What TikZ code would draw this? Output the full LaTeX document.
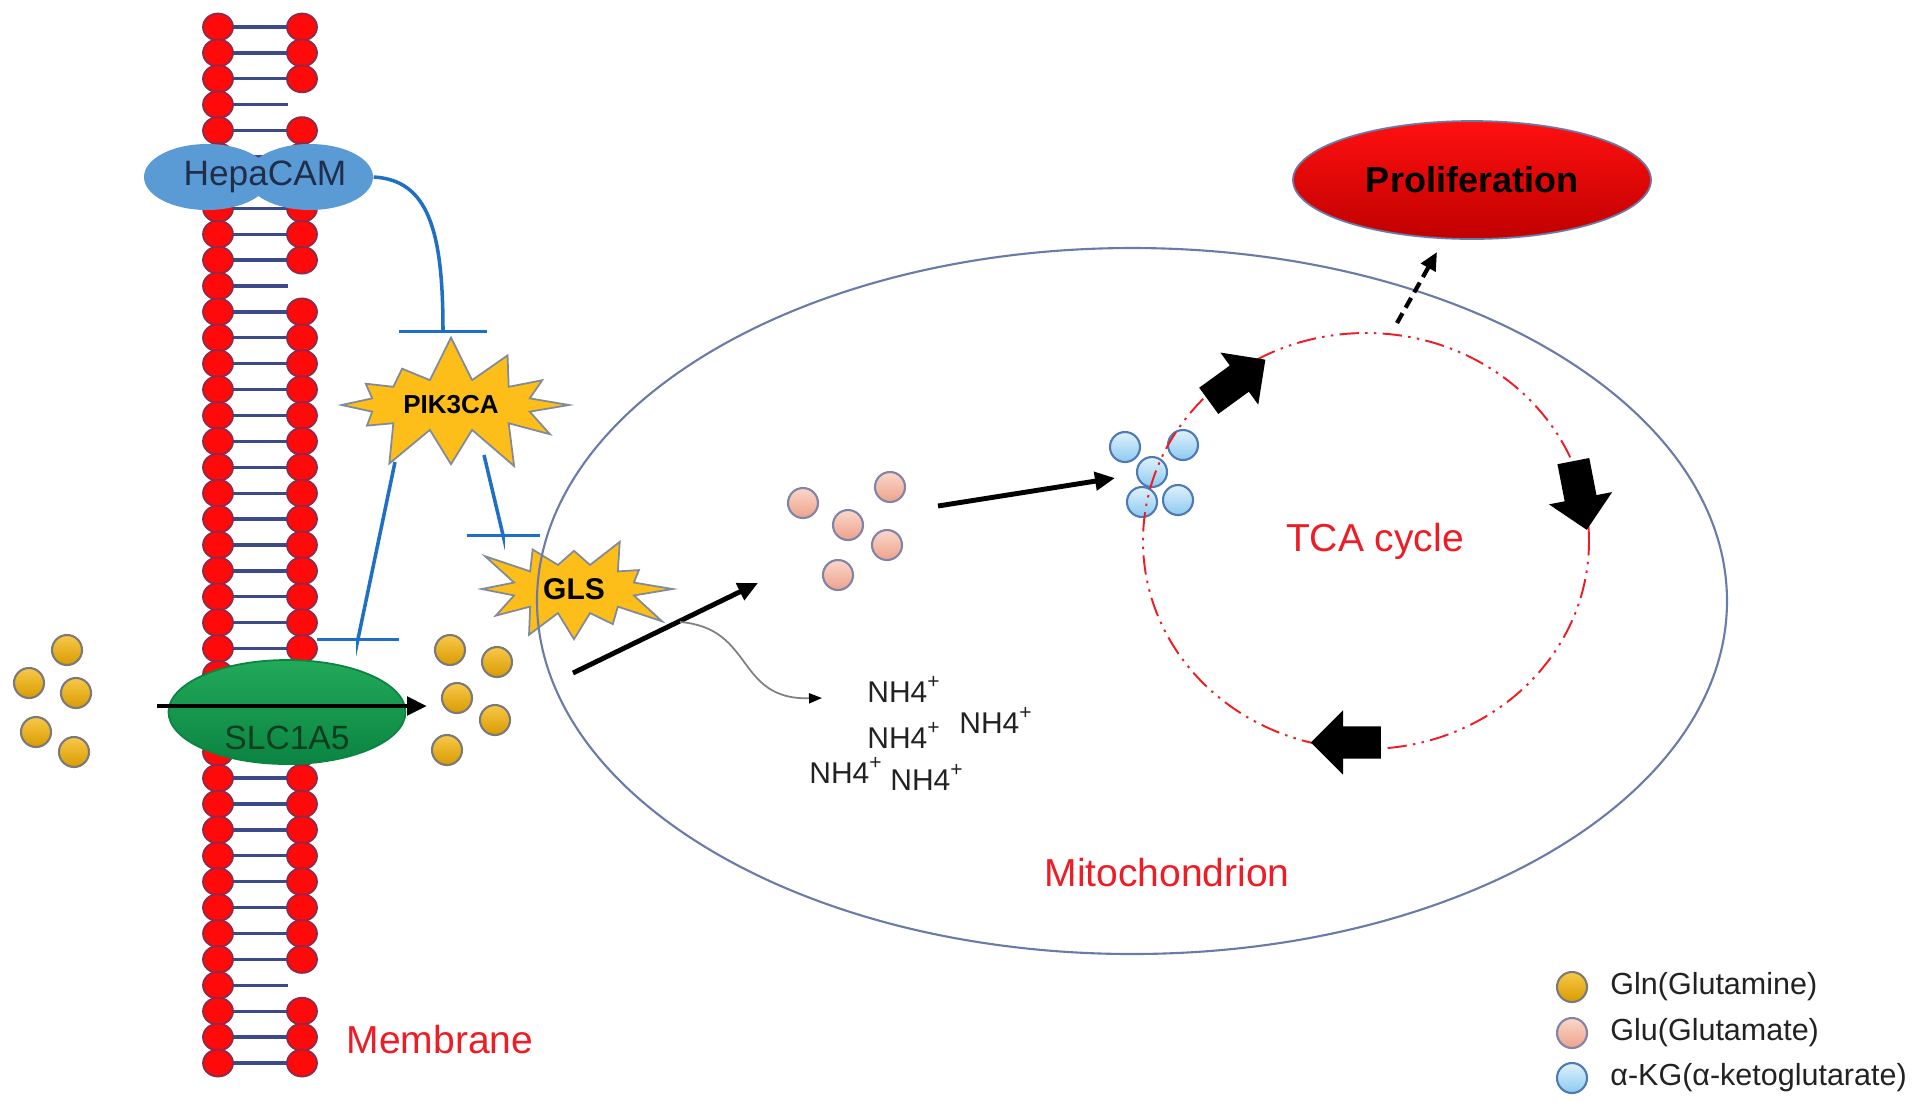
\documentclass[tikz,border=0pt]{standalone}
\usepackage{fontspec}
\setmainfont{Liberation Sans}
\usepackage{xcolor}
\usepackage{tikz}
\usetikzlibrary{arrows.meta,shapes.geometric,shapes.symbols,shapes.arrows}
\definecolor{lipidred}{HTML}{FF0A0A}
\definecolor{lipidedge}{HTML}{8C2A4B}
\definecolor{tailcolor}{HTML}{3D4A8A}
\definecolor{hepacolor}{HTML}{5B9BD5}
\definecolor{hepatext}{HTML}{1F2E4A}
\definecolor{inhibitcolor}{HTML}{1F6FC5}
\definecolor{burstcolor}{HTML}{FDBE1A}
\definecolor{burstedge}{HTML}{7F8A9A}
\definecolor{slctop}{HTML}{22A95A}
\definecolor{slcbottom}{HTML}{0B8442}
\definecolor{slctext}{HTML}{0B3D1F}
\definecolor{glntop}{HTML}{F8C84A}
\definecolor{glnbottom}{HTML}{D99B00}
\definecolor{glnedge}{HTML}{7A7A7A}
\definecolor{glutop}{HTML}{FAD7CA}
\definecolor{glubottom}{HTML}{EEA28C}
\definecolor{gluedge}{HTML}{8084A8}
\definecolor{akgtop}{HTML}{DFF1FC}
\definecolor{akgbottom}{HTML}{8CCAF0}
\definecolor{akgedge}{HTML}{4F79B5}
\definecolor{mitoedge}{HTML}{6A7BA8}
\definecolor{labelred}{HTML}{EE1C25}
\definecolor{prolitop}{HTML}{FF1010}
\definecolor{prolibottom}{HTML}{C00000}
\definecolor{inktext}{HTML}{222222}
\tikzset{
  lipid/.style={draw=lipidedge, line width=0.5pt, fill=lipidred},
  tailline/.style={draw=tailcolor, line width=0.95pt},
  hepalobe/.style={ellipse, fill=hepacolor, minimum width=1.26cm, minimum height=0.66cm, inner sep=0pt},
  inhibit/.style={draw=inhibitcolor, line width=1pt},
  burst/.style={starburst, starburst points=12, fill=burstcolor, draw=burstedge, line width=0.5pt, font=\bfseries},
  flow/.style={draw=black, line width=1.4pt, -{Triangle[length=0.2cm,width=0.18cm]}},
  thinflow/.style={draw=gray, line width=0.5pt, -{Triangle[length=0.13cm,width=0.1cm,color=black]}},
  glnball/.style={draw=glnedge, line width=0.6pt, top color=glntop, bottom color=glnbottom},
  gluball/.style={draw=gluedge, line width=0.6pt, top color=glutop, bottom color=glubottom},
  akgball/.style={draw=akgedge, line width=0.6pt, top color=akgtop, bottom color=akgbottom},
  cyclearrow/.style={single arrow, fill=black, inner xsep=0pt, inner ysep=0.155cm, minimum width=0.63cm, minimum height=0.70cm, single arrow head extend=0.16cm},
  nhlabel/.style={anchor=base west, text=inktext, font=\fontsize{0.30cm}{0.36cm}\selectfont},
  redlabel/.style={text=labelred, font=\fontsize{0.39cm}{0.47cm}\selectfont},
  legendtext/.style={anchor=west, text=inktext, font=\fontsize{0.305cm}{0.37cm}\selectfont}
}

\begin{document}
\begin{tikzpicture}%
\useasboundingbox (0,0) rectangle (19.13,-11.13);%
\foreach \k in {0,...,40}{%
  \draw[tailline] (2.18,-0.27-0.259*\k) -- (2.88,-0.27-0.259*\k);%
  \draw[lipid] (2.18,-0.27-0.259*\k) ellipse (0.15 and 0.135);%
  \ifnum\k=3 \else\ifnum\k=10 \else\ifnum\k=37 \else
    \draw[lipid] (3.02,-0.27-0.259*\k) ellipse (0.15 and 0.135);%
  \fi\fi\fi
}%
\node[hepalobe] (hepaL) at (2.07,-1.77) {};%
\node[hepalobe] (hepaR) at (3.10,-1.77) {};%
\node[text=hepatext, font=\fontsize{0.353cm}{0.42cm}\selectfont] (hepacam) at (2.65,-1.77) {HepaCAM};%
\node[burst, inner xsep=0.10cm, inner ysep=0.09cm, starburst point height=0.46cm, random starburst=7, font=\bfseries\fontsize{0.26cm}{0.31cm}\selectfont] (pik3ca) at (4.51,-4.05) {PIK3CA};%
\node[burst, inner xsep=0.13cm, inner ysep=0.07cm, starburst point height=0.42cm, random starburst=3, font=\bfseries\fontsize{0.30cm}{0.36cm}\selectfont] (gls) at (5.74,-5.89) {GLS};%
\node[ellipse, draw=mitoedge, line width=0.6pt, minimum width=11.90cm, minimum height=7.06cm] (mito) at (11.32,-6.01) {};%
\coordinate (pikTop) at (4.43,-3.33);%
\draw[inhibit, -{Bar[width=0.88cm]}] (hepaR.east) .. controls (4.28,-1.80) and (4.43,-2.30) .. (pikTop);%
\coordinate (pikOutS) at (3.95,-4.62);%
\coordinate (slcKnee) at (3.58,-6.39);%
\coordinate (slcTop) at (3.58,-6.41);%
\draw[inhibit, -{Bar[width=0.82cm]}] (pikOutS) -- (slcKnee) -- (slcTop);%
\coordinate (pikOutG) at (4.84,-4.55);%
\coordinate (glsKnee) at (5.03,-5.35);%
\coordinate (glsTop) at (5.03,-5.37);%
\draw[inhibit, -{Bar[width=0.73cm]}] (pikOutG) -- (glsKnee) -- (glsTop);%
\node[ellipse, top color=slctop, bottom color=slcbottom, draw=slcbottom, line width=0.5pt, minimum width=2.37cm, minimum height=1.04cm] (slc) at (2.87,-7.12) {};%
\node[text=slctext, font=\fontsize{0.336cm}{0.40cm}\selectfont] (slclabel) at (2.87,-7.38) {SLC1A5};%
\foreach \x/\y in {0.67/-6.50, 0.29/-6.83, 0.76/-6.93, 0.36/-7.32, 0.74/-7.52, 4.50/-6.50, 4.97/-6.62, 4.57/-6.98, 4.95/-7.20, 4.47/-7.50}{%
  \draw[glnball] (\x,\y) circle (0.15);%
}%
\coordinate (glnIn) at (1.57,-7.06);%
\coordinate (glnOut) at (4.27,-7.06);%
\draw[flow] (glnIn) -- (glnOut);%
\coordinate (glnGo) at (5.73,-6.73);%
\coordinate (gluArrive) at (7.58,-5.83);%
\draw[flow] (glnGo) -- (gluArrive);%
\coordinate (nhFrom) at (6.80,-6.22);%
\coordinate (nhTo) at (8.22,-6.98);%
\draw[thinflow] (nhFrom) .. controls (7.55,-6.28) and (7.35,-7.00) .. (nhTo);%
\node[nhlabel] (nhA) at (8.55,-7.02) {NH4\textsuperscript{+}};%
\node[nhlabel] (nhB) at (9.47,-7.33) {NH4\textsuperscript{+}};%
\node[nhlabel] (nhC) at (8.55,-7.48) {NH4\textsuperscript{+}};%
\node[nhlabel] (nhD) at (7.97,-7.83) {NH4\textsuperscript{+}};%
\node[nhlabel] (nhE) at (8.78,-7.90) {NH4\textsuperscript{+}};%
\foreach \x/\y in {8.03/-5.03, 8.90/-4.87, 8.48/-5.25, 8.87/-5.45, 8.38/-5.75}{%
  \draw[gluball] (\x,\y) circle (0.15);%
}%
\coordinate (gluGo) at (9.38,-5.06);%
\coordinate (akgArrive) at (11.15,-4.78);%
\draw[flow] (gluGo) -- (akgArrive);%
\foreach \x/\y in {11.25/-4.47, 11.83/-4.45, 11.52/-4.72, 11.42/-5.02, 11.78/-5.00}{%
  \draw[akgball] (\x,\y) circle (0.15);%
}%
\node[ellipse, draw=labelred, line width=0.55pt, dash pattern=on 5.5pt off 1.8pt on 0.7pt off 1.8pt on 0.7pt off 1.8pt, minimum width=4.46cm, minimum height=4.16cm] (tca) at (13.66,-5.41) {};%
\node[redlabel] (tcalabel) at (13.75,-5.41) {TCA cycle};%
\node[cyclearrow, rotate=36] (tcaA) at (12.305,-3.85) {};%
\node[cyclearrow, rotate=-79] (tcaB) at (15.785,-4.875) {};%
\node[cyclearrow, rotate=180] (tcaC) at (13.54,-7.425) {};%
\node[ellipse, top color=prolitop, bottom color=prolibottom, draw=mitoedge, line width=0.5pt, minimum width=3.58cm, minimum height=1.18cm, font=\bfseries\fontsize{0.36cm}{0.43cm}\selectfont, text=black] (prolif) at (14.72,-1.80) {Proliferation};%
\coordinate (tcaOut) at (13.97,-3.23);%
\coordinate (prolifIn) at (14.37,-2.52);%
\draw[draw=black, line width=1.2pt, dash pattern=on 3.2pt off 1.8pt, -{Triangle[length=0.18cm,width=0.16cm]}] (tcaOut) -- (prolifIn);%
\node[redlabel] (mitolabel) at (11.67,-8.73) {Mitochondrion};%
\node[redlabel] (memlabel) at (4.40,-10.40) {Membrane};%
\draw[glnball] (15.72,-9.87) circle (0.15);%
\draw[gluball] (15.72,-10.33) circle (0.15);%
\draw[akgball] (15.72,-10.78) circle (0.15);%
\node[legendtext] (legGln) at (15.98,-9.87) {Gln(Glutamine)};%
\node[legendtext] (legGlu) at (15.98,-10.33) {Glu(Glutamate)};%
\node[legendtext] (legAkg) at (15.98,-10.78) {α-KG(α-ketoglutarate)};%
\end{tikzpicture}
\end{document}
